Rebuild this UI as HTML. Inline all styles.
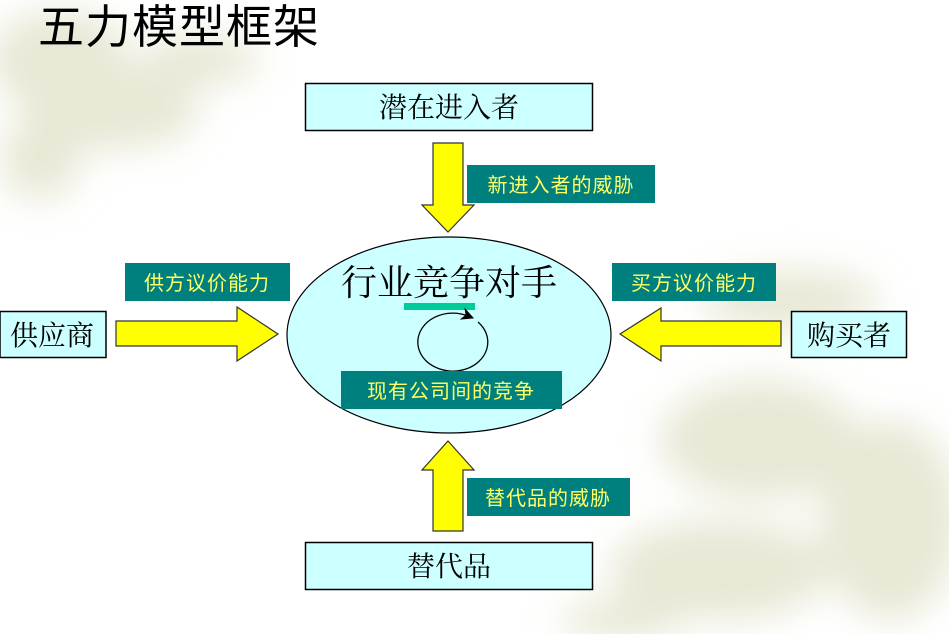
<!DOCTYPE html>
<html><head><meta charset="utf-8"><style>
html,body{margin:0;padding:0;background:#fff;}
svg{display:block;}
text{font-family:"Liberation Sans","Noto Sans CJK SC",sans-serif;}
.sf{font-family:"Liberation Serif","Noto Serif CJK SC",serif;}
</style></head><body>
<svg width="949" height="634" viewBox="0 0 949 634" xmlns="http://www.w3.org/2000/svg">
<defs>
<filter id="bl" x="-50%" y="-50%" width="200%" height="200%"><feGaussianBlur stdDeviation="18"/></filter>
<marker id="ah" markerWidth="10" markerHeight="10" refX="5" refY="5" orient="auto"><path d="M0,0 L10,5 L0,10 L3,5 z" fill="#000"/></marker>
</defs>
<rect width="949" height="634" fill="#fff"/>
<g filter="url(#bl)" fill="#dcdcc0" opacity="0.65">
<ellipse cx="60" cy="60" rx="70" ry="50"/>
<ellipse cx="110" cy="110" rx="90" ry="40"/>
<ellipse cx="40" cy="160" rx="40" ry="40"/>
<ellipse cx="200" cy="60" rx="60" ry="25"/>
<ellipse cx="760" cy="440" rx="100" ry="60"/>
<ellipse cx="890" cy="520" rx="70" ry="100"/>
<ellipse cx="720" cy="570" rx="110" ry="50"/>
<ellipse cx="790" cy="300" rx="90" ry="30"/>
<ellipse cx="620" cy="620" rx="60" ry="20"/>
</g>
<text x="38" y="43" font-size="46" fill="#000" letter-spacing="1">五力模型框架</text>

<rect x="305.5" y="83.5" width="287" height="47" fill="#ccffff" stroke="#000" stroke-width="1.5"/>
<text class="sf" x="449" y="117" font-size="28" text-anchor="middle">潜在进入者</text>

<rect x="305.5" y="542.5" width="287" height="47" fill="#ccffff" stroke="#000" stroke-width="1.5"/>
<text class="sf" x="449" y="576" font-size="28" text-anchor="middle">替代品</text>

<rect x="0" y="311.5" width="106" height="46" fill="#ccffff" stroke="#000" stroke-width="1.5"/>
<text class="sf" x="52" y="345" font-size="28" text-anchor="middle">供应商</text>

<rect x="791.5" y="311.5" width="115" height="46" fill="#ccffff" stroke="#000" stroke-width="1.5"/>
<text class="sf" x="849" y="345" font-size="28" text-anchor="middle">购买者</text>

<ellipse cx="449" cy="335" rx="162" ry="98" fill="#ccffff" stroke="#000" stroke-width="1.2"/>
<text class="sf" x="449" y="295" font-size="36" text-anchor="middle">行业竞争对手</text>
<rect x="404" y="303" width="71" height="7" fill="#00cc99"/>
<path d="M478,322 A35,29 0 1 1 468,316" fill="none" stroke="#000" stroke-width="1.3" marker-end="url(#ah)"/>
<rect x="341" y="371" width="221" height="38" fill="#007f7f"/>
<text x="451" y="398" font-size="20" fill="#ffff66" text-anchor="middle" letter-spacing="1">现有公司间的竞争</text>

<g fill="#ffff00" stroke="#333" stroke-width="1.2">
<path d="M433,143 H463 V205 H474 L448,232 L422,205 H433 Z"/>
<path d="M433,531 H463 V470 H474 L448,441 L422,470 H433 Z"/>
<path d="M116,321 H237 V307 L278,334 L237,361 V346 H116 Z"/>
<path d="M781,321 H661 V308 L620,334 L661,361 V346 H781 Z"/>
</g>

<rect x="467" y="165" width="188" height="38" fill="#007f7f"/>
<text x="561" y="192" font-size="20" fill="#ffff66" text-anchor="middle" letter-spacing="1">新进入者的威胁</text>
<rect x="467" y="478" width="163" height="38" fill="#007f7f"/>
<text x="548" y="505" font-size="20" fill="#ffff66" text-anchor="middle" letter-spacing="1">替代品的威胁</text>
<rect x="125" y="263" width="165" height="38" fill="#007f7f"/>
<text x="207" y="290" font-size="20" fill="#ffff66" text-anchor="middle" letter-spacing="1">供方议价能力</text>
<rect x="612" y="263" width="164" height="38" fill="#007f7f"/>
<text x="694" y="290" font-size="20" fill="#ffff66" text-anchor="middle" letter-spacing="1">买方议价能力</text>
</svg>
</body></html>
